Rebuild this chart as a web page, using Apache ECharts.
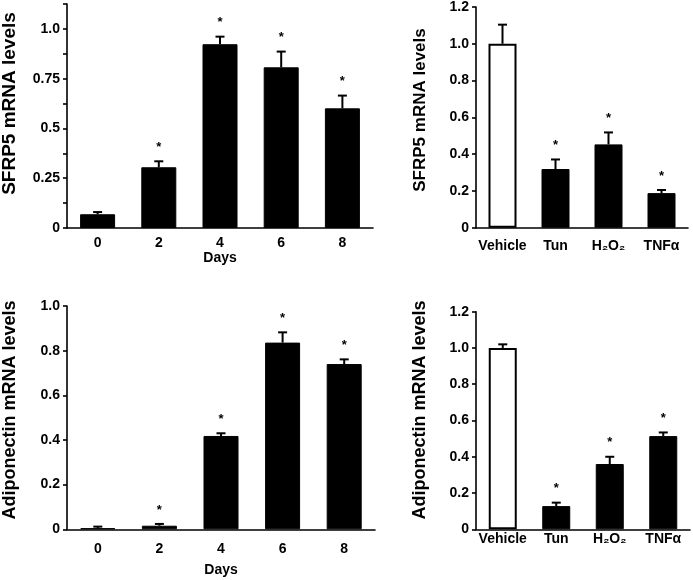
<!DOCTYPE html>
<html>
<head>
<meta charset="utf-8">
<script src="https://cdn.jsdelivr.net/npm/echarts@6/dist/echarts.min.js"></script>
<style>html,body{margin:0;padding:0;background:#fff}#c{width:693px;height:580px}</style>
</head>
<body>
<div id="c"></div>
<script>
// ---- data ----
const days = ['0', '2', '4', '6', '8'];
const treatments = ['Vehicle', 'Tun', 'H₂O₂', 'TNFα'];

const sfrp5Days = [0.069, 0.305, 0.923, 0.807, 0.601];
const sfrp5DaysErr = [0.011, 0.030, 0.038, 0.079, 0.064];
const sfrp5DaysStar = [0, 1, 1, 1, 1];

const sfrp5Treat = [1.0, 0.319, 0.453, 0.188];
const sfrp5TreatErr = [0.104, 0.052, 0.065, 0.017];
const sfrp5TreatStar = [0, 1, 1, 1];

const adipoDays = [0.005, 0.016, 0.418, 0.836, 0.740];
const adipoDaysErr = [0.007, 0.008, 0.012, 0.046, 0.021];
const adipoDaysStar = [0, 1, 1, 1, 1];

const adipoTreat = [1.0, 0.128, 0.360, 0.514];
const adipoTreatErr = [0.020, 0.019, 0.040, 0.020];
const adipoTreatStar = [0, 1, 1, 1];

const p1TickLabels = { '0': '0', '0.25': '0.25', '0.5': '0.5', '0.75': '0.75', '1': '1.0' };
const decTickLabels = { '0': '0', '0.2': '0.2', '0.4': '0.4', '0.6': '0.6', '0.8': '0.8', '1': '1.0', '1.2': '1.2' };

// ---- chart ----
const FONT = 'Liberation Sans, Arial, sans-serif';
const chart = echarts.init(document.getElementById('c'), null, { renderer: 'canvas' });

function fmt(map) {
  return function (v) {
    const k = String(Math.round(v * 1000) / 1000);
    return map[k] !== undefined ? map[k] : '';
  };
}

function errItem(params, api) {
  const i = api.value(0), m = api.value(1), e = api.value(2), s = api.value(3);
  const base = api.coord([i, m]);
  const top = api.coord([i, m + e]);
  const children = [
    { type: 'line', shape: { x1: base[0], y1: base[1], x2: top[0], y2: top[1] }, style: { stroke: '#000', lineWidth: 2 } },
    { type: 'line', shape: { x1: top[0] - 4.5, y1: top[1], x2: top[0] + 4.5, y2: top[1] }, style: { stroke: '#000', lineWidth: 2 } }
  ];
  if (s) {
    children.push({ type: 'text', style: { text: '*', x: top[0], y: top[1] - 14, align: 'center', verticalAlign: 'middle', font: 'bold 13px ' + FONT, fill: '#000' } });
  }
  return { type: 'group', children: children };
}

function errData(means, errs, stars) {
  return means.map((m, i) => [i, m, errs[i], stars[i]]);
}

const grids = [
  { left: 67, top: 4, width: 306, height: 224 },
  { left: 476, top: 6.7, width: 212, height: 221 },
  { left: 67, top: 306, width: 308, height: 223.3 },
  { left: 476, top: 311.7, width: 214, height: 217.6 }
];

const axisLine = { show: true, lineStyle: { color: '#000', width: 1.6 } };

function xAx(gi, cats, margin, name, nameGap) {
  return {
    type: 'category', gridIndex: gi, data: cats,
    axisLine: axisLine, axisTick: { show: false },
    axisLabel: { color: '#000', fontFamily: FONT, fontWeight: 'bold', fontSize: 14, margin: margin, interval: 0 },
    name: name || '', nameLocation: 'middle', nameGap: nameGap || 0,
    nameTextStyle: { color: '#000', fontFamily: FONT, fontWeight: 'bold', fontSize: 14 }
  };
}
function yAx(gi, max, interval, map) {
  return {
    type: 'value', gridIndex: gi, min: 0, max: max, interval: interval,
    axisLine: axisLine,
    axisTick: { show: true, length: 4, lineStyle: { color: '#000', width: 1.6 } },
    splitLine: { show: false },
    axisLabel: { color: '#000', fontFamily: FONT, fontWeight: 'bold', fontSize: 14, margin: 7, formatter: fmt(map) }
  };
}

function bars(gi, vals, width, firstWhite) {
  return {
    type: 'bar', xAxisIndex: gi, yAxisIndex: gi, barWidth: width,
    data: vals.map((v, i) => ({
      value: v,
      itemStyle: (firstWhite && i === 0)
        ? { color: '#fff', borderColor: '#000', borderWidth: 2 }
        : { color: '#000', borderColor: '#000', borderWidth: 1 }
    })),
    silent: true, animation: false
  };
}
function errs(gi, means, e, s) {
  return {
    type: 'custom', xAxisIndex: gi, yAxisIndex: gi, renderItem: errItem,
    data: errData(means, e, s), encode: { x: 0, y: 1 }, z: 5, silent: true, animation: false
  };
}

function yName(text, x, y, size) {
  return {
    type: 'text', x: x, y: y, rotation: Math.PI / 2,
    style: { text: text, align: 'center', verticalAlign: 'middle', font: 'bold ' + size + 'px ' + FONT, fill: '#000' }
  };
}

chart.setOption({
  animation: false,
  backgroundColor: '#fff',
  grid: grids,
  xAxis: [
    xAx(0, days, 8, 'Days', 20),
    xAx(1, treatments, 11),
    xAx(2, days, 13, 'Days', 34),
    xAx(3, treatments, 3)
  ],
  yAxis: [
    yAx(0, 1.125, 0.125, p1TickLabels),
    yAx(1, 1.2, 0.2, decTickLabels),
    yAx(2, 1.0, 0.2, decTickLabels),
    yAx(3, 1.2, 0.2, decTickLabels)
  ],
  series: [
    bars(0, sfrp5Days, 35, false), errs(0, sfrp5Days, sfrp5DaysErr, sfrp5DaysStar),
    bars(1, sfrp5Treat, 28, true), errs(1, sfrp5Treat, sfrp5TreatErr, sfrp5TreatStar),
    bars(2, adipoDays, 35, false), errs(2, adipoDays, adipoDaysErr, adipoDaysStar),
    bars(3, adipoTreat, 28, true), errs(3, adipoTreat, adipoTreatErr, adipoTreatStar)
  ],
  graphic: [
    yName('SFRP5 mRNA levels', 10, 103.5, 19),
    yName('SFRP5 mRNA levels', 420, 110, 17),
    yName('Adiponectin mRNA levels', 10, 410, 18),
    yName('Adiponectin mRNA levels', 420, 410, 18)
  ]
});
</script>
</body>
</html>
